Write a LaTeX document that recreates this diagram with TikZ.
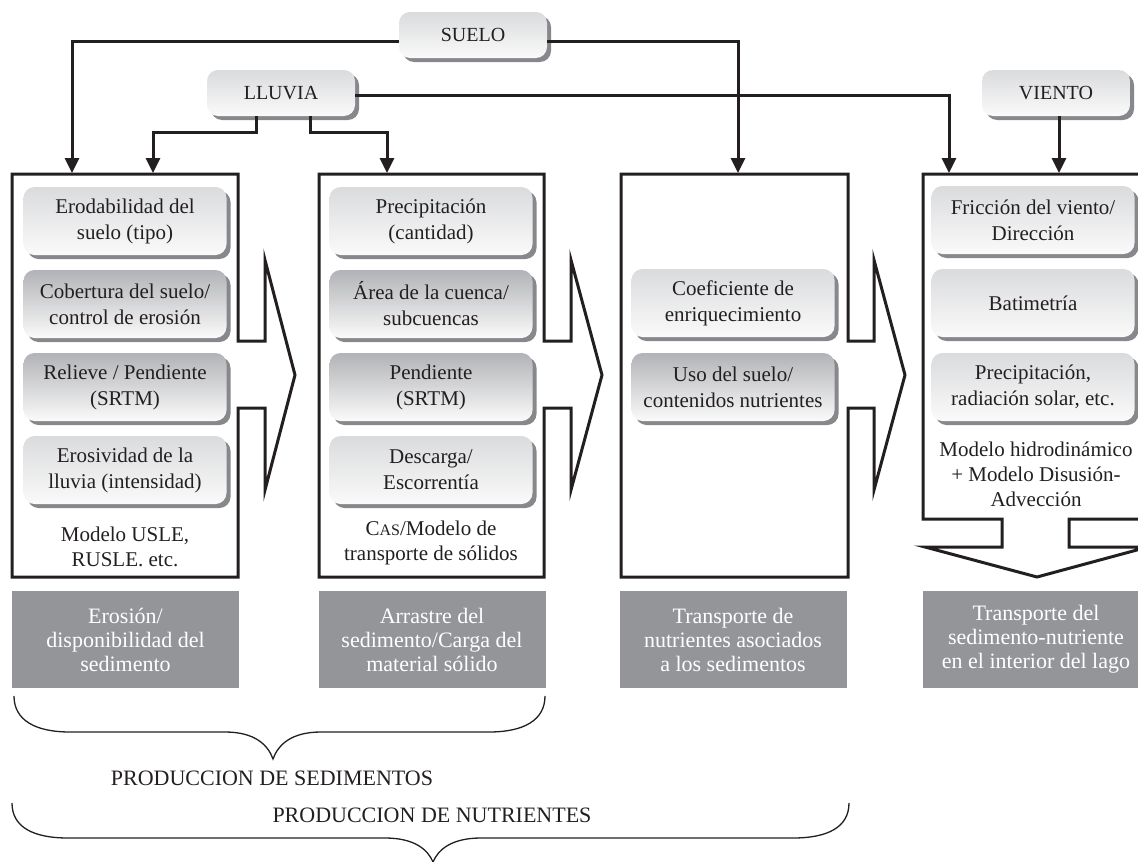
\documentclass[tikz,border=0pt]{standalone}
\usepackage{fontspec}
\setmainfont{Liberation Serif}
\usetikzlibrary{positioning}
\usetikzlibrary{arrows.meta}
\usetikzlibrary{shadows}

\definecolor{ink}{RGB}{35,31,32}
\definecolor{stagegray}{RGB}{147,149,152}
\definecolor{shadowgray}{RGB}{135,136,139}
\definecolor{lighttop}{RGB}{218,219,221}
\definecolor{darktop}{RGB}{178,179,182}
\definecolor{boxbottom}{RGB}{250,250,250}

\tikzset{
  factor/.style={rounded corners=11pt, minimum width=203pt, minimum height=68pt, inner sep=2pt,
    align=center, top color=lighttop, bottom color=boxbottom, text=ink,
    general shadow={fill=shadowgray, shadow xshift=4pt, shadow yshift=-4pt},
    font=\fontsize{21}{26}\selectfont},
  factordark/.style={factor, top color=darktop},
  source/.style={factor, minimum width=148pt, minimum height=46pt, font=\fontsize{20}{24}\selectfont},
  stage/.style={fill=stagegray, text=white, minimum width=227pt, minimum height=97pt,
    align=center, font=\fontsize{22}{24}\selectfont},
  model/.style={align=center, text=ink, font=\fontsize{21}{25}\selectfont},
  frame/.style={draw=ink, line width=3pt, line join=miter},
  feed/.style={draw=ink, line width=3pt, -{Triangle[length=15pt,width=14pt]}},
  grouping/.style={draw=ink, line width=1.3pt},
  total/.style={text=ink, font=\fontsize{22}{26}\selectfont}
}

\begin{document}
\begin{tikzpicture}[x=1pt, y=-1pt]
  \useasboundingbox (0,0) rectangle (1138,862);
  \clip (0,0) rectangle (1138,862);

  % frames with their arrows
  \draw[frame] (12,174) -- (238,174) -- (238,341) -- (265,341) -- (265,260) -- (295,375)
    -- (265,490) -- (265,408) -- (238,408) -- (238,577) -- (12,577) -- cycle;
  \draw[frame] (319,174) -- (544,174) -- (544,341) -- (571,341) -- (571,260) -- (602,375)
    -- (571,490) -- (571,408) -- (544,408) -- (544,577) -- (319,577) -- cycle;
  \draw[frame] (621,174) -- (848,174) -- (848,341) -- (874,341) -- (874,260) -- (905,375)
    -- (874,490) -- (874,408) -- (848,408) -- (848,577) -- (621,577) -- cycle;
  \draw[frame] (923,174) -- (1151,174) -- (1151,519) -- (1069,519) -- (1069,547) -- (1148,547)
    -- (1037,577) -- (925,547) -- (1002,547) -- (1002,519) -- (923,519) -- cycle;

  % sources
  \node[source] (suelo) at (473,35) {SUELO};
  \node[source] (lluvia) at (281,93) {LLUVIA};
  \node[source] (viento) at (1056,93) {VIENTO};

  \coordinate (soil1) at (72,173);
  \coordinate (rain1) at (153,173);
  \coordinate (rain2) at (387,173);
  \coordinate (soil3) at (738,173);
  \coordinate (rain4) at (949,173);
  \coordinate (wind4) at (1059,173);

  % factors
  \node[factor] (erod) at (125,221) {Erodabilidad del\\suelo (tipo)};
  \node[factordark] (cober) at (125,304) {Cobertura del suelo/\\control de erosión};
  \node[factordark] (relieve) at (125,387) {Relieve / Pendiente\\(SRTM)};
  \node[factor] (erosiv) at (125,470) {Erosividad de la\\lluvia (intensidad)};
  \node[model] (usle) at (125,547) {Modelo USLE,\\RUSLE. etc.};

  \node[factor] (precip) at (431,221) {Precipitación\\(cantidad)};
  \node[factordark] (area) at (431,304) {Área de la cuenca/\\subcuencas};
  \node[factordark] (pend) at (431,387) {Pendiente\\(SRTM)};
  \node[factor] (desc) at (431,470) {Descarga/\\Escorrentía};
  \node[model] (cas) at (431,543) {C{\fontsize{16}{25}\selectfont AS}/Modelo de\\transporte de sólidos};

  \node[factor] (coef) at (733,303) {Coeficiente de\\enriquecimiento};
  \node[factordark] (uso) at (733,387) {Uso del suelo/\\contenidos nutrientes};

  \node[factor] (friccion) at (1033,220) {Fricción del viento/\\Dirección};
  \node[factor] (bati) at (1033,303) {Batimetría};
  \node[factor] (precipb) at (1033,387) {Precipitación,\\radiación solar, etc.};
  \node[model] (hidro) at (1036,474) {Modelo hidrodinámico\\+ Modelo Disusión-\\Advección};

  % stages
  \node[stage] (erosion) at (125.5,639.5) {Erosión/\\disponibilidad del\\sedimento};
  \node[stage] (arrastre) at (432,639.5) {Arrastre del\\sedimento/Carga del\\material sólido};
  \node[stage] (nutri) at (733,639.5) {Transporte de\\nutrientes asociados\\a los sedimentos};
  \node[stage] (lago) at (1036,639.5) {Transporte del\\sedimento-nutriente\\en el interior del lago};

  % feeds
  \draw[feed] ([yshift=-6pt]suelo.west) -| (soil1);
  \draw[feed] ([yshift=-6pt]suelo.east) -| (soil3);
  \draw[feed] ([yshift=-2pt]lluvia.east) -| (rain4);
  \draw[feed] ([xshift=-25pt]lluvia.south) -- ++(0,16) -| (rain1);
  \draw[feed] ([xshift=29pt]lluvia.south) -- ++(0,16) -| (rain2);
  \draw[feed] (viento.south -| wind4) -- (wind4);

  % braces
  \draw[grouping] (14,696) .. controls (14,720) and (35,732) .. (70,732) -- (225,732)
    .. controls (255,732) and (268,745) .. (273,759) .. controls (278,745) and (291,732) .. (321,732)
    -- (489,732) .. controls (524,732) and (545,720) .. (545,696);
  \node[total] (sedim) at (272,778) {PRODUCCION DE SEDIMENTOS};

  \draw[grouping] (12,803) .. controls (12,827) and (33,838) .. (68,838) -- (385,838)
    .. controls (415,838) and (428,850) .. (433,862) .. controls (438,850) and (451,838) .. (481,838)
    -- (793,838) .. controls (828,838) and (849,827) .. (849,803);
  \node[total] (nutrientes) at (432,815) {PRODUCCION DE NUTRIENTES};
\end{tikzpicture}
\end{document}
